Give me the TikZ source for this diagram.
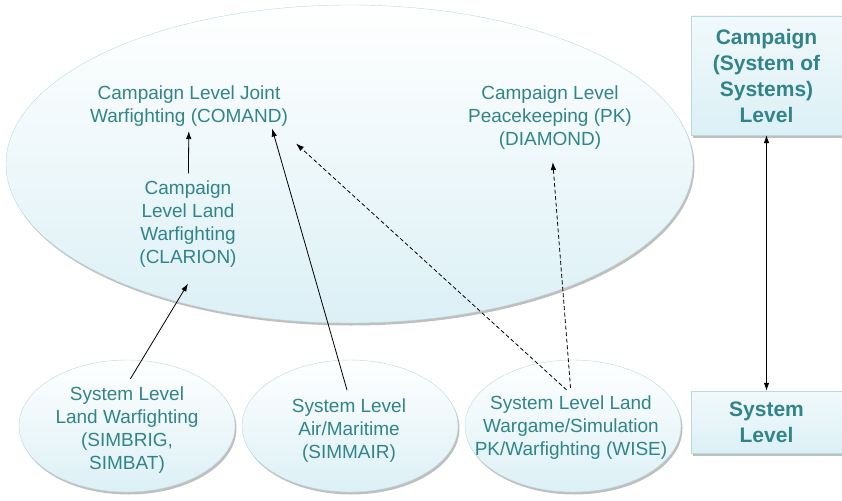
\documentclass[tikz,border=0pt]{standalone}
\usepackage{fontspec}
\setmainfont{Liberation Sans}
\usepackage{xcolor}
\definecolor{mteal}{RGB}{49,132,138}
\definecolor{mfill}{RGB}{220,240,246}
\definecolor{medge}{RGB}{185,218,224}
\usepackage{tikz}
\usetikzlibrary{positioning}
\usetikzlibrary{arrows.meta}
\usetikzlibrary{shapes.geometric}
\usetikzlibrary{shadows}

\begin{document}
\begin{tikzpicture}[x=1pt, y=-1pt,
    zone/.style={ellipse, draw=medge, top color=white, bottom color=mfill, drop shadow={shadow xshift=1.5pt, shadow yshift=-2.5pt, fill=black!50, opacity=.5}},
    levelbox/.style={rectangle, draw=medge, top color=mfill!40, bottom color=mfill, minimum width=165pt, drop shadow={shadow xshift=1.5pt, shadow yshift=-2.5pt, fill=black!50, opacity=.5}},
    modeltext/.style={text=mteal, align=center, inner sep=2pt, font=\fontsize{19}{23}\selectfont},
    boxtext/.style={text=mteal, align=center, font=\bfseries\fontsize{21}{26}\selectfont},
    arrow/.style={-{Latex[length=8pt, width=5.5pt]}, line width=0.8pt},
    dasharrow/.style={arrow, dash pattern=on 4pt off 2.5pt},
]
\useasboundingbox (0,0) rectangle (842,500);

\node[zone, minimum width=687pt, minimum height=318pt] (campaignzone) at (349.5,164) {};
\node[zone, minimum width=216pt, minimum height=132pt] (simbrigzone) at (127,426) {};
\node[zone, minimum width=216pt, minimum height=132pt] (simmairzone) at (350,426) {};
\node[zone, minimum width=216pt, minimum height=132pt] (wisezone) at (573,426) {};

\node[modeltext] (comand) at (189,106) {Campaign Level Joint\\Warfighting (COMAND)};
\node[modeltext] (peacekeeping) at (550,118) {Campaign Level\\Peacekeeping (PK)\\(DIAMOND)};
\node[modeltext] (clarion) at (188,224) {Campaign\\Level Land\\Warfighting\\(CLARION)};
\node[modeltext] (simbrig) at (127,430) {System Level\\Land Warfighting\\(SIMBRIG,\\SIMBAT)};
\node[modeltext] (simmair) at (349,431) {System Level\\Air/Maritime\\(SIMMAIR)};
\node[modeltext] (wise) at (571,428) {System Level Land\\Wargame/Simulation\\PK/Warfighting (WISE)};

% boxes run off the right edge
\node[levelbox, minimum height=119pt] (campaignbox) at (773.5,75.5) {};
\node[levelbox, minimum height=62pt] (systembox) at (773.5,422) {};
\node[boxtext] (campaigntext) at (766.5,75.5) {Campaign\\(System of\\Systems)\\Level};
\node[boxtext] (systemtext) at (766.5,422) {System\\Level};

\draw[arrow, shorten <=5pt, shorten >=2.5pt] (clarion) -- (comand);
\draw[arrow, shorten <=6.5pt] (simbrig.north) -- ([shift={(0,14)}]clarion.south);
\draw[arrow, shorten <=7pt] (simmair.north) -- ([xshift=-18pt]comand.south east);
\draw[dasharrow, shorten <=6pt] (wise.north) -- ([shift={(6,15)}]comand.south east);
\draw[dasharrow, shorten <=6pt, shorten >=10pt] (wise.north) -- ([xshift=2pt]peacekeeping.south);
\draw[{Latex[length=8pt, width=5.5pt]}-{Latex[length=8pt, width=5.5pt]}, line width=0.8pt] (campaigntext |- campaignbox.south) -- (systemtext |- systembox.north);

\end{tikzpicture}
\end{document}
